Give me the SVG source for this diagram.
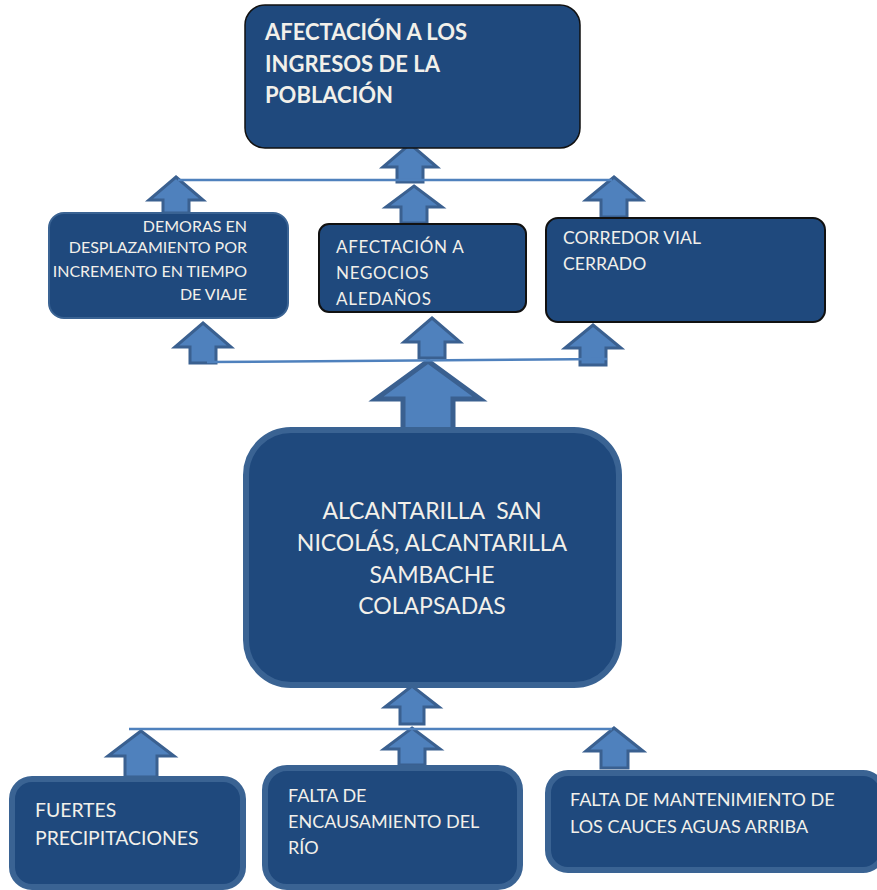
<svg xmlns="http://www.w3.org/2000/svg" width="877" height="890" viewBox="0 0 877 890">
<style>
.box{fill:#1f497d}
.bl{stroke:#111;stroke-width:2}
.lt{stroke:#3a6393}
.arr{fill:#4f81bd;stroke:#3a6090;stroke-width:3;stroke-linejoin:miter}
.ln{stroke:#4f81bd;stroke-width:2.5;fill:none}
text{font-family:Lato,"Liberation Sans",sans-serif;fill:#f2f0ea}
.t1{font-size:22px;font-weight:bold}
.t2{font-size:16px}
.t3{font-size:17px;letter-spacing:0.7px}
.t4{font-size:17.6px}
.t5{font-size:23px}
.t6{font-size:18px}
.t7{font-size:19.4px}
</style>
<rect width="877" height="890" fill="#fff"/>
<g id="arrows">
<polygon class="arr" points="410,144 437,167 423,167 423,182 397,182 397,167 383,167"/>
<polygon class="arr" points="414,186 442,207 427,207 427,223 401,223 401,207 386,207"/>
<polygon class="arr" points="176,177 203,200 189,200 189,213 163,213 163,200 149,200"/>
<polygon class="arr" points="614,177 642,200 627,200 627,217 601,217 601,200 586,200"/>
<polygon class="arr" points="203,323 231,347 216,347 216,363 190,363 190,347 175,347"/>
<polygon class="arr" points="432,318 460,342 445,342 445,358 419,358 419,342 404,342"/>
<polygon class="arr" points="593,325 621,348 606,348 606,365 580,365 580,348 565,348"/>
<polygon class="arr" points="428,361 480,399 453,399 453,433 403,433 403,399 376,399" style="stroke-width:5"/>
<polygon class="arr" points="412,686 439,707 424,707 424,724 400,724 400,707 385,707"/>
<polygon class="arr" points="141,731 174,756 157,756 157,777 125,777 125,756 108,756"/>
<polygon class="arr" points="412,728 440,749 425,749 425,765 399,765 399,749 384,749"/>
<polygon class="arr" points="614,728 643,751 628,751 628,768 601,768 601,751 586,751"/>
</g>
<g id="connectors">
<line class="ln" x1="178" y1="180" x2="612" y2="180"/>
<line class="ln" x1="207" y1="362" x2="607" y2="359"/>
<line class="ln" x1="129" y1="729" x2="612" y2="729"/>
</g>
<g id="n-top">
<rect class="box bl" x="245" y="5" width="335" height="143" rx="20" style="stroke-width:1.5"/>
<text class="t1" x="265" y="40">AFECTACIÓN A LOS</text>
<text class="t1" x="265" y="72">INGRESOS DE LA</text>
<text class="t1" x="265" y="103">POBLACIÓN</text>
</g>
<g id="n-demoras">
<rect class="box lt" x="49" y="213" width="239" height="105" rx="15" stroke-width="2"/>
<text class="t2" x="247" y="232" text-anchor="end">DEMORAS EN</text>
<text class="t2" x="247" y="253" text-anchor="end">DESPLAZAMIENTO POR</text>
<text class="t2" x="247" y="277" text-anchor="end">INCREMENTO EN TIEMPO</text>
<text class="t2" x="247" y="300" text-anchor="end">DE VIAJE</text>
</g>
<g id="n-negocios">
<rect class="box bl" x="319" y="224" width="207" height="88" rx="10"/>
<text class="t3" x="336" y="253">AFECTACIÓN A</text>
<text class="t3" x="336" y="279">NEGOCIOS</text>
<text class="t3" x="336" y="305">ALEDAÑOS</text>
</g>
<g id="n-corredor">
<rect class="box bl" x="546" y="218" width="279" height="104" rx="12"/>
<text class="t4" x="563" y="244">CORREDOR VIAL</text>
<text class="t4" x="563" y="270">CERRADO</text>
</g>
<g id="n-central">
<rect class="box lt" x="246" y="430" width="373" height="255" rx="45" stroke-width="6"/>
<text class="t5" x="432" y="519" text-anchor="middle">ALCANTARILLA&#160; SAN</text>
<text class="t5" x="432" y="551" text-anchor="middle">NICOLÁS, ALCANTARILLA</text>
<text class="t5" x="432" y="583" text-anchor="middle">SAMBACHE</text>
<text class="t5" x="432" y="614" text-anchor="middle">COLAPSADAS</text>
</g>
<g id="n-fuertes">
<rect class="box lt" x="12" y="779" width="231" height="108" rx="20" stroke-width="6"/>
<text class="t7" x="35" y="817">FUERTES</text>
<text class="t7" x="35" y="845">PRECIPITACIONES</text>
</g>
<g id="n-encausamiento">
<rect class="box lt" x="265" y="768" width="255" height="119" rx="22" stroke-width="6"/>
<text class="t6" x="288" y="802">FALTA DE</text>
<text class="t6" x="288" y="828">ENCAUSAMIENTO DEL</text>
<text class="t6" x="288" y="854">RÍO</text>
</g>
<g id="n-mantenimiento">
<rect class="box lt" x="548" y="773" width="335" height="97" rx="20" stroke-width="6"/>
<text class="t6" x="570" y="806">FALTA DE MANTENIMIENTO DE</text>
<text class="t6" x="570" y="833">LOS CAUCES AGUAS ARRIBA</text>
</g>
</svg>
